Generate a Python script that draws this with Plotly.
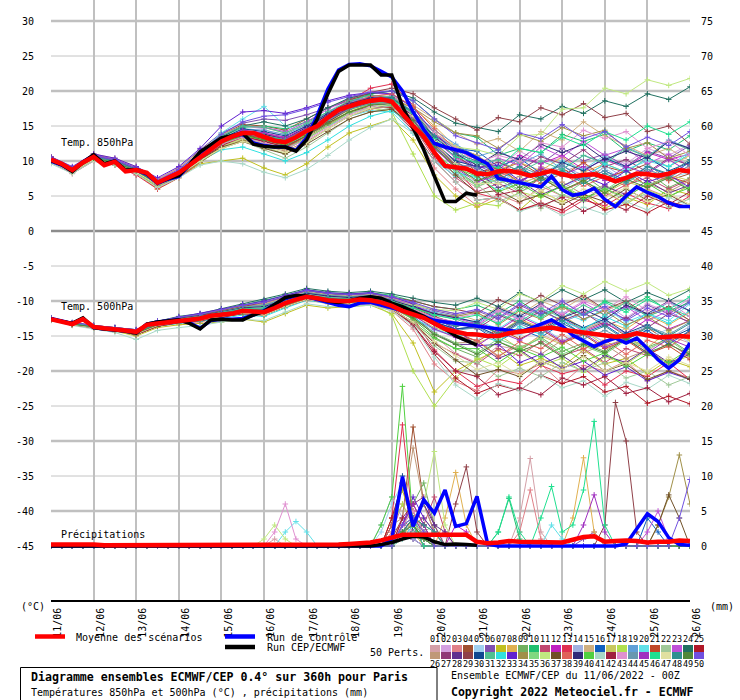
import plotly.graph_objects as go

# ---------------- data ----------------
DATES = ["11/06", "12/06", "13/06", "14/06", "15/06", "16/06", "17/06", "18/06",
         "19/06", "20/06", "21/06", "22/06", "23/06", "24/06", "25/06", "26/06"]
LEFT_TICKS = [30, 25, 20, 15, 10, 5, 0, -5, -10, -15, -20, -25, -30, -35, -40, -45]
RIGHT_TICKS = [75, 70, 65, 60, 55, 50, 45, 40, 35, 30, 25, 20, 15, 10, 5, 0]

MEMBER_COLORS = [
    "#d4a0a8", "#d4a0e0", "#e08088", "#a05030", "#a0d0f0", "#8050b0", "#c0c020", "#e0b050", "#70b060", "#20c070",
    "#c04870", "#c020c0", "#e03050", "#a0b0e0", "#d0b080", "#1060c0", "#c8c860", "#b0e050", "#60a0d8", "#60e0e8",
    "#c04828", "#a0c898", "#c050d8", "#207060", "#b01828",
    "#c09878", "#903878", "#603090", "#904048", "#104890", "#50c090", "#30e0e0", "#6020d0", "#a09048", "#80d880",
    "#c0e880", "#705028", "#e06058", "#302878", "#50d040", "#a8d8c8", "#a02040", "#e090d0", "#6898b0", "#a030c0",
    "#20e090", "#e0e0a0", "#309090", "#508838", "#7050e0"]

# 6-hourly series (degC / mm)
MEAN_850 = [10.2, 9.6, 8.7, 9.8, 10.6, 9.4, 9.9, 8.5, 8.7, 8.3,
            6.9, 7.6, 8.3, 9.4, 10.6, 11.8, 12.8, 13.5, 14.0, 14.0,
            13.4, 12.9, 12.7, 13.4, 14.3, 15.0, 16.2, 17.3, 17.8, 18.3,
            18.6, 18.8, 18.5, 16.7, 15.0, 13.5, 11.2, 9.3, 9.1, 8.9,
            8.2, 8.1, 8.5, 8.6, 8.3, 7.9, 8.2, 8.6, 8.1, 7.8,
            8.0, 8.1, 7.7, 7.1, 7.6, 8.2, 8.1, 7.9, 8.2, 8.7, 8.5]
CTRL_850 = [10.0, 9.4, 8.6, 9.9, 10.8, 9.5, 10.0, 8.6, 8.7, 8.1,
            6.8, 7.4, 7.8, 9.4, 11.2, 12.2, 13.2, 13.5, 13.8, 12.6,
            12.2, 12.0, 12.0, 11.5, 13.3, 16.5, 20.3, 23.0, 23.8, 23.9,
            23.6, 22.8, 22.0, 20.0, 17.0, 14.5, 12.5, 12.0, 11.6, 11.2,
            10.4, 9.6, 7.5, 7.2, 6.8, 6.5, 6.3, 7.8, 5.9, 5.1,
            5.4, 6.1, 4.5, 3.5, 5.0, 6.3, 5.5, 4.9, 4.0, 3.5, 3.5]
CEP_850 = [10.1, 9.5, 8.5, 9.8, 10.9, 9.6, 10.0, 8.7, 8.8, 8.2,
           6.9, 7.5, 7.9, 9.5, 11.3, 12.3, 13.3, 13.6, 14.0, 12.4,
           12.1, 12.0, 12.0, 11.4, 13.0, 16.0, 19.6, 22.8, 23.7, 23.7,
           23.7, 22.3, 22.3, 17.8, 14.6, 11.6, 7.8, 4.2, 4.2, 5.4, 5.1]
MEAN_500 = [-12.6, -12.9, -13.3, -12.6, -13.7, -13.9, -14.0, -14.2, -14.4, -13.4,
            -13.2, -13.0, -12.8, -12.7, -12.5, -12.1, -12.0, -11.8, -11.4, -11.5,
            -11.6, -11.0, -10.3, -9.8, -9.4, -9.6, -9.9, -10.0, -10.0, -9.8,
            -9.9, -10.2, -10.7, -11.4, -11.9, -12.4, -13.2, -14.0, -14.4, -14.7,
            -14.8, -15.0, -15.0, -14.6, -14.4, -14.2, -14.0, -13.8, -14.1, -14.3,
            -14.4, -14.6, -14.9, -15.1, -15.0, -14.6, -14.9, -15.2, -15.1, -15.0, -15.1]
CTRL_500 = [-12.5, -12.9, -13.2, -12.5, -13.8, -14.0, -14.1, -14.3, -14.5, -13.3,
            -13.0, -12.8, -12.7, -13.1, -13.9, -12.8, -12.6, -12.6, -12.5, -12.0,
            -11.4, -10.5, -9.6, -9.3, -9.4, -9.8, -10.2, -10.6, -10.8, -10.3,
            -10.2, -10.6, -11.0, -11.3, -11.8, -12.2, -12.8, -13.0, -13.2, -13.4,
            -13.5, -13.7, -14.0, -14.2, -14.4, -13.9, -13.3, -12.7, -13.6, -14.9,
            -15.7, -16.5, -15.8, -15.3, -16.0, -15.3, -16.8, -18.4, -19.6, -18.4, -16.0]
CEP_500 = [-12.6, -12.9, -13.2, -12.4, -13.8, -14.0, -14.1, -14.3, -14.6, -13.3,
           -13.0, -12.8, -12.7, -13.2, -14.0, -12.7, -12.6, -12.7, -12.7, -12.0,
           -11.5, -10.5, -9.5, -9.2, -9.3, -9.6, -10.0, -10.2, -10.0, -9.6,
           -9.4, -9.6, -10.3, -10.8, -11.5, -12.2, -13.2, -14.0, -15.0, -15.6, -16.3]
MEAN_PR = [0.2, 0.2, 0.3, 0.3, 0.2, 0.1, 0.1, 0.1, 0.1, 0.1,
           0.1, 0.1, 0.1, 0.1, 0.1, 0.1, 0.1, 0.1, 0.1, 0.1,
           0.2, 0.2, 0.2, 0.2, 0.2, 0.2, 0.2, 0.2, 0.3, 0.4,
           0.5, 0.8, 1.2, 1.6, 1.6, 1.6, 1.5, 1.5, 1.5, 1.6,
           0.6, 0.4, 0.5, 0.7, 0.6, 0.6, 0.6, 0.5, 0.5, 0.9,
           1.3, 1.4, 0.6, 0.7, 0.8, 0.7, 0.5, 0.6, 0.6, 0.8, 0.7]
CTRL_PR = [0, 0, 0, 0, 0, 0, 0, 0, 0, 0,
           0, 0, 0, 0, 0, 0, 0, 0, 0, 0,
           0, 0, 0, 0, 0, 0, 0, 0, 0, 0,
           0, 0, 1.0, 9.9, 2.8, 6.6, 4.7, 8.0, 2.8, 3.2,
           7.1, 0.3, 0, 0, 0, 0, 0, 0, 0, 0,
           0, 0, 0, 0, 0.3, 2.5, 4.6, 3.5, 1.2, 0.2, 0.1]
CEP_PR = [0, 0, 0, 0, 0, 0, 0, 0, 0, 0,
          0, 0, 0, 0, 0, 0, 0, 0, 0, 0,
          0, 0, 0, 0, 0, 0, 0, 0, 0, 0,
          0, 0.2, 0.5, 1.0, 1.4, 1.3, 0.6, 0.2, 0.3, 0.2, 0.1]

# 12-hourly member temperatures, tenths of degC
T850_MEMBERS = [
    [100, 88, 104, 98, 86, 70, 84, 104, 126, 142, 138, 130, 146, 168, 182, 190, 192, 160, 110, 80, 62, 78, 70, 92, 84, 96, 74, 86, 64, 80, 90],
    [104, 86, 108, 100, 88, 66, 80, 110, 134, 150, 146, 132, 150, 170, 190, 200, 196, 170, 130, 110, 104, 92, 114, 98, 104, 84, 106, 96, 118, 108, 124],
    [98, 84, 102, 96, 84, 62, 78, 100, 120, 132, 124, 116, 132, 150, 168, 180, 186, 150, 90, 60, 36, 52, 40, 64, 50, 42, 56, 38, 60, 48, 66],
    [106, 90, 110, 102, 90, 72, 86, 112, 138, 152, 150, 144, 160, 176, 188, 194, 190, 170, 140, 120, 108, 86, 98, 80, 90, 70, 92, 84, 96, 72, 82],
    [102, 88, 106, 98, 86, 68, 82, 106, 130, 140, 128, 120, 138, 156, 170, 178, 176, 140, 100, 82, 70, 88, 66, 80, 60, 78, 90, 70, 94, 76, 84],
    [104, 90, 108, 102, 90, 74, 90, 116, 140, 154, 160, 158, 166, 176, 186, 190, 186, 160, 118, 92, 94, 80, 104, 96, 118, 100, 110, 92, 114, 104, 122],
    [100, 86, 104, 96, 82, 60, 76, 96, 100, 104, 90, 80, 96, 120, 140, 150, 160, 130, 80, 50, 34, 46, 30, 56, 42, 54, 32, 48, 38, 60, 52],
    [102, 88, 106, 100, 88, 70, 84, 106, 124, 136, 132, 128, 140, 156, 174, 184, 190, 176, 150, 120, 108, 88, 98, 86, 106, 84, 96, 84, 104, 92, 108],
    [98, 84, 102, 94, 82, 64, 78, 98, 118, 128, 120, 110, 126, 146, 164, 176, 180, 150, 110, 88, 66, 78, 58, 76, 64, 80, 58, 72, 84, 62, 76],
    [104, 88, 108, 100, 86, 70, 86, 110, 134, 148, 150, 146, 156, 170, 184, 196, 200, 186, 160, 140, 134, 108, 118, 112, 138, 128, 138, 114, 126, 116, 136],
    [100, 86, 104, 98, 86, 68, 82, 104, 126, 138, 130, 122, 140, 160, 176, 184, 182, 150, 104, 76, 56, 68, 54, 76, 58, 70, 50, 66, 76, 60, 74],
    [102, 88, 106, 100, 88, 70, 84, 108, 130, 144, 140, 134, 150, 168, 184, 192, 188, 160, 120, 98, 100, 88, 108, 96, 108, 88, 102, 90, 112, 102, 110],
    [98, 82, 100, 94, 80, 60, 76, 98, 122, 136, 128, 118, 136, 160, 186, 204, 210, 180, 130, 90, 54, 46, 30, 38, 26, 44, 36, 54, 40, 32, 50],
    [102, 90, 106, 100, 88, 72, 86, 108, 128, 138, 132, 126, 138, 152, 168, 176, 178, 154, 120, 100, 98, 80, 92, 72, 92, 80, 94, 74, 88, 76, 94],
    [106, 90, 110, 104, 92, 74, 90, 114, 138, 150, 148, 140, 152, 166, 180, 188, 192, 180, 160, 140, 124, 132, 114, 142, 130, 156, 136, 122, 108, 118, 100],
    [100, 86, 104, 98, 86, 70, 84, 106, 126, 138, 136, 130, 144, 160, 174, 182, 180, 160, 136, 118, 114, 92, 104, 82, 94, 74, 86, 72, 92, 80, 98],
    [100, 86, 104, 96, 84, 66, 80, 102, 122, 132, 124, 116, 132, 150, 170, 180, 184, 160, 124, 100, 80, 90, 68, 78, 58, 72, 54, 70, 62, 80, 72],
    [102, 86, 106, 98, 86, 68, 84, 104, 124, 136, 130, 124, 138, 154, 170, 176, 170, 110, 50, 30, 40, 36, 56, 48, 66, 48, 58, 38, 58, 48, 66],
    [104, 88, 108, 100, 88, 70, 86, 110, 132, 146, 144, 138, 152, 170, 184, 192, 190, 170, 144, 124, 106, 116, 96, 110, 88, 108, 98, 120, 106, 130, 118],
    [102, 88, 106, 100, 88, 70, 86, 112, 140, 160, 178, 150, 140, 150, 164, 172, 170, 140, 100, 78, 80, 68, 88, 78, 100, 88, 108, 88, 100, 92, 114],
    [100, 86, 104, 98, 86, 68, 82, 104, 126, 138, 132, 126, 140, 158, 176, 186, 188, 170, 140, 110, 84, 90, 70, 88, 78, 98, 76, 86, 64, 78, 68],
    [98, 84, 102, 96, 84, 66, 80, 100, 118, 128, 116, 104, 120, 140, 160, 170, 176, 150, 110, 80, 66, 42, 54, 32, 52, 42, 62, 42, 54, 34, 46],
    [104, 90, 108, 102, 90, 72, 88, 112, 136, 150, 148, 142, 156, 174, 190, 198, 194, 168, 130, 104, 88, 104, 94, 120, 106, 128, 108, 118, 96, 110, 92],
    [102, 88, 106, 98, 86, 68, 84, 108, 134, 150, 156, 150, 160, 176, 190, 196, 200, 190, 170, 154, 148, 142, 166, 160, 178, 168, 186, 178, 196, 188, 206],
    [100, 86, 104, 98, 84, 64, 80, 102, 124, 136, 128, 120, 136, 154, 170, 178, 176, 144, 100, 70, 44, 48, 30, 40, 30, 48, 30, 38, 26, 42, 34],
    [100, 86, 104, 96, 84, 66, 80, 100, 120, 130, 122, 114, 128, 146, 164, 174, 178, 156, 120, 94, 86, 68, 78, 58, 70, 52, 66, 48, 68, 56, 72],
    [102, 88, 106, 100, 88, 70, 84, 106, 128, 140, 134, 128, 142, 158, 174, 182, 186, 164, 130, 106, 90, 98, 86, 106, 96, 116, 92, 102, 84, 104, 94],
    [104, 88, 106, 100, 86, 66, 82, 104, 126, 140, 136, 128, 142, 160, 176, 186, 190, 166, 128, 98, 84, 62, 72, 52, 64, 44, 64, 52, 72, 54, 66],
    [100, 86, 104, 98, 86, 68, 82, 104, 126, 138, 134, 130, 146, 166, 186, 198, 204, 196, 176, 160, 144, 162, 156, 176, 166, 182, 162, 168, 142, 150, 124],
    [102, 88, 106, 100, 88, 70, 86, 108, 132, 146, 142, 136, 150, 168, 182, 190, 188, 164, 126, 100, 92, 74, 88, 76, 98, 86, 104, 92, 106, 86, 98],
    [104, 88, 108, 100, 88, 70, 86, 110, 136, 150, 148, 140, 154, 170, 186, 194, 192, 170, 140, 116, 94, 102, 84, 100, 88, 108, 96, 118, 106, 128, 116],
    [98, 84, 102, 96, 84, 66, 80, 100, 116, 120, 110, 100, 112, 130, 150, 164, 172, 150, 110, 84, 76, 58, 72, 62, 86, 76, 96, 84, 104, 92, 110],
    [106, 92, 110, 104, 92, 76, 92, 118, 150, 170, 172, 168, 176, 186, 194, 198, 196, 176, 140, 112, 90, 94, 72, 84, 64, 78, 66, 86, 70, 80, 62],
    [100, 84, 102, 96, 84, 64, 78, 98, 118, 130, 124, 118, 134, 152, 170, 182, 188, 176, 156, 140, 136, 118, 138, 128, 148, 136, 144, 118, 126, 104, 114],
    [100, 86, 104, 98, 86, 68, 82, 104, 124, 134, 126, 118, 132, 150, 168, 178, 180, 154, 114, 86, 64, 74, 56, 68, 50, 70, 58, 78, 66, 76, 60],
    [100, 86, 104, 98, 84, 64, 80, 100, 120, 132, 126, 120, 136, 156, 172, 182, 186, 170, 140, 120, 116, 108, 136, 138, 174, 176, 204, 196, 216, 208, 218],
    [102, 88, 106, 98, 86, 66, 80, 102, 120, 128, 118, 110, 124, 142, 160, 170, 174, 150, 110, 80, 54, 58, 42, 52, 38, 52, 42, 60, 44, 52, 36],
    [102, 88, 106, 100, 88, 70, 86, 108, 128, 142, 138, 132, 146, 164, 182, 192, 196, 178, 146, 116, 102, 78, 88, 68, 82, 64, 78, 64, 84, 72, 90],
    [104, 90, 108, 100, 88, 70, 86, 108, 130, 142, 138, 132, 148, 166, 182, 190, 190, 168, 134, 110, 94, 112, 102, 124, 112, 124, 102, 114, 104, 128, 118],
    [100, 86, 104, 96, 84, 66, 82, 104, 124, 136, 130, 124, 138, 156, 174, 182, 184, 160, 120, 90, 78, 56, 68, 50, 64, 46, 60, 48, 68, 50, 62],
    [96, 82, 100, 94, 82, 62, 76, 94, 100, 96, 84, 76, 88, 108, 130, 148, 160, 140, 100, 70, 44, 48, 28, 38, 22, 34, 24, 42, 30, 48, 36],
    [100, 86, 104, 98, 86, 66, 80, 102, 122, 134, 128, 120, 136, 156, 174, 184, 186, 164, 124, 94, 80, 52, 58, 36, 48, 28, 42, 30, 50, 38, 56],
    [102, 88, 106, 100, 86, 68, 82, 104, 124, 134, 126, 118, 130, 148, 166, 178, 184, 168, 140, 118, 98, 108, 100, 126, 120, 144, 132, 142, 118, 128, 108],
    [102, 88, 106, 98, 86, 68, 84, 106, 128, 140, 134, 128, 140, 158, 174, 182, 184, 160, 122, 96, 90, 72, 92, 80, 94, 74, 86, 68, 88, 76, 94],
    [104, 88, 108, 100, 88, 70, 86, 108, 130, 144, 140, 132, 146, 164, 180, 188, 186, 160, 118, 90, 70, 80, 68, 90, 80, 92, 72, 92, 82, 102, 84],
    [100, 86, 104, 98, 86, 68, 84, 106, 128, 140, 136, 130, 144, 162, 178, 186, 188, 168, 132, 106, 98, 90, 118, 112, 134, 122, 142, 130, 150, 138, 156],
    [98, 84, 102, 96, 84, 66, 80, 100, 118, 128, 120, 112, 126, 146, 164, 176, 182, 164, 128, 96, 68, 68, 46, 58, 40, 60, 48, 62, 42, 54, 38],
    [102, 88, 106, 100, 88, 70, 84, 106, 128, 140, 136, 128, 144, 162, 178, 188, 190, 170, 136, 110, 100, 80, 92, 72, 86, 68, 82, 70, 92, 82, 102],
    [100, 86, 104, 98, 86, 68, 82, 104, 126, 138, 130, 122, 136, 154, 170, 180, 182, 158, 120, 92, 72, 82, 62, 76, 58, 72, 54, 74, 62, 76, 58],
    [104, 90, 108, 102, 90, 72, 88, 112, 138, 156, 164, 166, 174, 184, 192, 198, 200, 186, 160, 136, 126, 116, 140, 132, 152, 132, 142, 120, 134, 122, 142],
]
T500_MEMBERS = [
    [-125, -132, -136, -140, -145, -132, -127, -124, -118, -112, -110, -100, -92, -96, -98, -96, -104, -120, -150, -175, -188, -164, -170, -148, -160, -140, -160, -150, -172, -150, -160],
    [-124, -131, -135, -138, -142, -130, -124, -120, -114, -108, -104, -96, -88, -92, -94, -92, -98, -108, -118, -124, -118, -130, -110, -122, -102, -116, -104, -124, -104, -116, -96],
    [-127, -134, -138, -142, -148, -136, -132, -130, -124, -118, -120, -108, -98, -104, -106, -104, -114, -140, -190, -215, -228, -198, -204, -190, -218, -192, -200, -186, -214, -200, -210],
    [-126, -133, -137, -140, -143, -131, -126, -122, -116, -110, -106, -98, -90, -94, -96, -94, -100, -110, -122, -132, -130, -148, -128, -140, -122, -142, -130, -150, -138, -158, -144],
    [-126, -133, -137, -141, -145, -133, -128, -125, -120, -115, -118, -106, -96, -100, -102, -100, -108, -124, -142, -150, -156, -136, -148, -136, -156, -144, -158, -138, -152, -140, -160],
    [-125, -132, -136, -139, -143, -131, -125, -121, -115, -108, -104, -95, -86, -90, -92, -90, -96, -104, -114, -120, -114, -126, -106, -120, -106, -126, -112, -126, -106, -118, -100],
    [-127, -134, -139, -143, -150, -138, -134, -132, -130, -126, -130, -118, -106, -110, -108, -106, -118, -160, -230, -200, -184, -170, -192, -182, -194, -170, -190, -182, -204, -184, -194],
    [-126, -133, -137, -140, -144, -132, -127, -124, -119, -113, -112, -102, -92, -96, -98, -96, -102, -112, -124, -134, -132, -146, -126, -138, -120, -140, -128, -140, -120, -134, -116],
    [-127, -134, -138, -141, -146, -134, -130, -127, -122, -117, -120, -108, -98, -102, -104, -102, -112, -130, -154, -168, -180, -158, -170, -152, -172, -160, -172, -152, -166, -154, -174],
    [-125, -132, -136, -139, -142, -130, -124, -120, -113, -106, -100, -92, -84, -88, -90, -88, -92, -100, -108, -112, -106, -118, -100, -120, -108, -120, -100, -112, -94, -114, -102],
    [-126, -133, -137, -141, -146, -134, -129, -126, -121, -116, -118, -106, -96, -100, -102, -100, -110, -132, -160, -176, -190, -168, -178, -158, -178, -168, -188, -168, -178, -160, -180],
    [-125, -132, -136, -140, -144, -132, -126, -122, -117, -111, -110, -100, -91, -95, -97, -95, -102, -114, -128, -136, -130, -142, -122, -136, -124, -144, -132, -146, -126, -140, -128],
    [-127, -134, -138, -142, -148, -136, -131, -128, -122, -116, -116, -104, -94, -98, -100, -98, -106, -124, -170, -200, -222, -212, -218, -192, -204, -196, -220, -200, -208, -188, -212],
    [-126, -133, -137, -140, -144, -132, -127, -124, -119, -114, -114, -104, -95, -99, -101, -99, -106, -118, -132, -140, -136, -150, -132, -146, -128, -142, -128, -148, -136, -154, -136],
    [-124, -131, -135, -138, -141, -129, -123, -119, -113, -107, -104, -95, -87, -91, -93, -91, -96, -104, -112, -118, -128, -108, -120, -100, -112, -94, -114, -102, -122, -110, -128],
    [-126, -133, -137, -140, -144, -132, -127, -123, -118, -112, -112, -102, -93, -97, -99, -97, -104, -116, -130, -140, -138, -158, -140, -152, -132, -146, -134, -154, -142, -162, -142],
    [-126, -133, -137, -141, -145, -133, -128, -125, -120, -115, -116, -105, -95, -99, -101, -99, -107, -120, -138, -148, -160, -148, -168, -150, -162, -142, -164, -154, -166, -144, -156],
    [-126, -133, -138, -142, -147, -135, -131, -128, -123, -118, -120, -108, -98, -102, -104, -102, -120, -200, -250, -210, -182, -194, -172, -192, -182, -202, -180, -190, -170, -190, -178],
    [-125, -132, -136, -139, -143, -131, -125, -121, -115, -109, -106, -97, -88, -92, -94, -92, -98, -106, -116, -122, -132, -112, -124, -110, -130, -118, -130, -108, -120, -102, -114],
    [-125, -132, -136, -140, -144, -132, -126, -122, -116, -110, -108, -98, -90, -94, -96, -94, -100, -112, -126, -134, -128, -140, -120, -134, -116, -128, -110, -130, -118, -128, -104],
    [-126, -133, -137, -140, -144, -132, -127, -124, -119, -113, -112, -102, -93, -97, -99, -97, -104, -116, -132, -144, -158, -140, -154, -140, -160, -148, -168, -156, -176, -164, -184],
    [-127, -134, -138, -142, -147, -135, -130, -127, -122, -117, -120, -108, -98, -102, -104, -102, -112, -132, -164, -186, -188, -208, -196, -208, -188, -200, -188, -210, -200, -220, -208],
    [-125, -132, -136, -139, -143, -131, -125, -121, -115, -109, -106, -97, -88, -92, -94, -92, -97, -106, -118, -124, -134, -114, -126, -106, -120, -102, -120, -108, -128, -114, -132],
    [-124, -131, -135, -138, -141, -129, -122, -118, -111, -104, -98, -90, -82, -86, -88, -86, -90, -96, -102, -106, -96, -108, -88, -102, -84, -98, -84, -102, -88, -100, -84],
    [-127, -134, -138, -142, -148, -136, -131, -128, -123, -117, -118, -106, -96, -100, -102, -100, -110, -134, -176, -210, -232, -220, -228, -206, -218, -208, -230, -222, -246, -236, -247],
    [-126, -133, -137, -141, -146, -134, -129, -126, -121, -116, -118, -106, -96, -100, -102, -100, -110, -126, -146, -160, -158, -178, -164, -176, -156, -174, -162, -182, -170, -190, -172],
    [-125, -132, -136, -140, -144, -132, -126, -122, -117, -111, -110, -100, -91, -95, -97, -95, -102, -112, -124, -130, -140, -120, -132, -114, -128, -116, -136, -124, -138, -118, -130],
    [-126, -133, -137, -141, -145, -133, -128, -125, -120, -114, -114, -104, -94, -98, -100, -98, -106, -122, -146, -162, -162, -182, -170, -190, -178, -198, -178, -188, -168, -188, -176],
    [-125, -132, -136, -139, -142, -130, -124, -120, -114, -107, -102, -94, -85, -89, -91, -89, -94, -100, -108, -112, -118, -98, -110, -92, -106, -92, -112, -100, -120, -108, -128],
    [-126, -133, -137, -140, -144, -132, -127, -123, -118, -112, -110, -101, -92, -96, -98, -96, -103, -115, -130, -140, -136, -150, -130, -142, -124, -138, -126, -146, -134, -154, -140],
    [-125, -132, -136, -139, -143, -131, -125, -121, -115, -109, -106, -97, -88, -92, -94, -92, -98, -108, -120, -126, -136, -118, -130, -110, -124, -106, -120, -102, -122, -110, -122],
    [-127, -134, -138, -142, -148, -136, -132, -129, -125, -120, -122, -110, -99, -103, -104, -102, -110, -124, -140, -150, -148, -158, -136, -148, -128, -140, -122, -136, -118, -132, -114],
    [-124, -131, -135, -138, -141, -129, -123, -118, -112, -105, -100, -92, -84, -88, -90, -88, -94, -104, -124, -140, -164, -162, -188, -176, -196, -186, -206, -194, -214, -202, -212],
    [-126, -133, -137, -140, -144, -132, -127, -124, -119, -113, -112, -102, -93, -97, -99, -97, -103, -110, -118, -122, -116, -134, -114, -126, -108, -126, -114, -134, -122, -142, -128],
    [-126, -133, -137, -141, -146, -134, -129, -126, -121, -116, -118, -106, -96, -100, -102, -100, -108, -124, -146, -160, -174, -154, -166, -154, -176, -164, -176, -156, -168, -156, -176],
    [-126, -133, -137, -140, -144, -132, -127, -124, -119, -113, -112, -102, -92, -96, -98, -96, -100, -106, -112, -114, -102, -112, -90, -100, -78, -90, -72, -86, -74, -92, -82],
    [-127, -134, -138, -142, -148, -136, -131, -128, -123, -118, -120, -108, -98, -102, -104, -102, -112, -130, -160, -184, -206, -198, -208, -186, -198, -178, -200, -190, -212, -200, -212],
    [-125, -132, -136, -140, -144, -132, -126, -122, -117, -111, -110, -100, -91, -95, -97, -95, -102, -114, -132, -150, -156, -180, -158, -168, -148, -168, -156, -176, -156, -166, -146],
    [-125, -132, -136, -139, -143, -131, -125, -121, -116, -110, -108, -98, -89, -93, -95, -93, -99, -108, -118, -124, -130, -110, -122, -104, -124, -112, -126, -106, -118, -100, -114],
    [-126, -133, -137, -141, -146, -134, -129, -126, -121, -116, -118, -106, -96, -100, -102, -100, -108, -126, -152, -168, -168, -188, -168, -180, -166, -186, -174, -194, -176, -188, -168],
    [-128, -135, -140, -145, -155, -142, -138, -135, -130, -126, -128, -116, -104, -108, -108, -106, -114, -136, -180, -220, -240, -218, -228, -206, -224, -214, -236, -216, -226, -206, -218],
    [-127, -134, -138, -142, -148, -136, -131, -128, -123, -118, -120, -108, -98, -102, -104, -102, -112, -134, -172, -200, -208, -234, -224, -234, -210, -220, -208, -232, -224, -244, -232],
    [-125, -132, -136, -140, -144, -132, -126, -122, -117, -111, -110, -100, -91, -95, -97, -95, -102, -112, -124, -130, -136, -114, -126, -106, -118, -100, -112, -94, -114, -102, -122],
    [-126, -133, -137, -140, -144, -132, -127, -124, -119, -113, -112, -102, -93, -97, -99, -97, -104, -116, -132, -142, -138, -152, -132, -146, -134, -154, -142, -156, -136, -148, -130],
    [-126, -133, -137, -141, -145, -133, -128, -125, -120, -114, -114, -104, -94, -98, -100, -98, -106, -120, -140, -152, -164, -144, -156, -138, -158, -146, -166, -154, -174, -154, -166],
    [-125, -132, -136, -140, -144, -132, -126, -122, -117, -111, -110, -100, -91, -95, -97, -95, -101, -110, -120, -126, -120, -132, -112, -124, -106, -120, -102, -116, -98, -112, -94],
    [-127, -134, -138, -142, -147, -135, -130, -127, -122, -117, -120, -108, -98, -102, -104, -102, -112, -130, -158, -178, -198, -188, -206, -186, -198, -180, -200, -188, -200, -180, -192],
    [-126, -133, -137, -140, -144, -132, -127, -123, -118, -112, -112, -102, -92, -96, -98, -96, -103, -114, -128, -136, -132, -146, -128, -142, -128, -148, -136, -156, -138, -150, -132],
    [-126, -133, -137, -141, -146, -134, -129, -126, -121, -116, -116, -105, -95, -99, -101, -99, -108, -124, -148, -162, -176, -158, -172, -160, -180, -162, -174, -154, -174, -162, -176],
    [-124, -131, -135, -138, -141, -129, -123, -119, -112, -106, -102, -93, -85, -89, -91, -89, -94, -102, -112, -118, -112, -124, -104, -118, -100, -120, -108, -128, -110, -122, -102],
]
# 6-hourly member precipitation: {step index: tenths of mm}, 0 elsewhere
PRECIP_MEMBERS = [
    {21: 10, 32: 20, 33: 30, 34: 10, 44: 40, 45: 125, 46: 20},
    {32: 10, 33: 30, 34: 20, 35: 10, 37: 15},
    {32: 20, 33: 60, 34: 30, 35: 20, 44: 20, 45: 80, 46: 10},
    {32: 10, 33: 40, 34: 170, 35: 60, 36: 20},
    {31: 20, 32: 60, 33: 90, 34: 20, 35: 10},
    {33: 20, 34: 30, 35: 10, 36: 20, 50: 10, 51: 20},
    {32: 40, 33: 80, 34: 30, 35: 40, 36: 20},
    {33: 10, 34: 20, 37: 40, 38: 105, 39: 30, 49: 40, 50: 126, 51: 20},
    {33: 30, 34: 60, 35: 90, 36: 30},
    {33: 20, 34: 10, 42: 20, 43: 68, 44: 10},
    {33: 40, 34: 20, 35: 30, 36: 70, 37: 20},
    {33: 20, 34: 10, 38: 30, 39: 20},
    {32: 40, 33: 173, 34: 30, 35: 10},
    {31: 30, 32: 70, 33: 40, 34: 10},
    {33: 10, 34: 20, 35: 10},
    {33: 20, 34: 30, 35: 20, 56: 40, 57: 20},
    {33: 10, 34: 40, 35: 20},
    {32: 30, 33: 60, 34: 30, 35: 20},
    {33: 30, 34: 40, 35: 10},
    {22: 20, 23: 35, 24: 20, 33: 20, 34: 30, 47: 30, 48: 10},
    {33: 20, 34: 30, 35: 10},
    {33: 30, 34: 40, 35: 20, 36: 30},
    {33: 20, 34: 30, 56: 20, 57: 50, 58: 10},
    {33: 10, 34: 20, 35: 10},
    {32: 40, 33: 90, 34: 20, 35: 10},
    {32: 30, 33: 40, 34: 140, 35: 60, 36: 20},
    {33: 30, 34: 60, 35: 70, 36: 30},
    {33: 20, 34: 40, 35: 60, 36: 30, 37: 20},
    {33: 20, 34: 30, 38: 60, 39: 113, 40: 20, 52: 30, 53: 205, 54: 150, 55: 20},
    {32: 30, 33: 100, 34: 20, 35: 10},
    {33: 20, 34: 40, 35: 10},
    {33: 10, 34: 30, 35: 20},
    {33: 30, 34: 70, 35: 40, 36: 20},
    {33: 30, 34: 50, 35: 20, 57: 30, 58: 70, 59: 130, 60: 60},
    {33: 20, 34: 40, 35: 30, 36: 20},
    {20: 10, 21: 30, 22: 10, 33: 30, 34: 40, 35: 60, 36: 135, 37: 30},
    {33: 20, 34: 40, 35: 30, 57: 30, 58: 73, 59: 40},
    {32: 30, 33: 90, 34: 50, 35: 10},
    {33: 20, 34: 30, 35: 20},
    {31: 30, 32: 70, 33: 228, 34: 30, 35: 10},
    {33: 10, 34: 20, 35: 10},
    {33: 40, 34: 60, 35: 30},
    {21: 20, 22: 60, 23: 10, 33: 30, 34: 50, 35: 20},
    {33: 20, 34: 30, 35: 20},
    {33: 30, 34: 60, 35: 30, 50: 30, 51: 73, 52: 20},
    {33: 20, 34: 30, 42: 20, 43: 70, 44: 20, 46: 40, 47: 85, 48: 20, 49: 30, 50: 80, 51: 178, 52: 30},
    {33: 20, 34: 30, 35: 20},
    {33: 20, 34: 40, 35: 30, 36: 20},
    {33: 20, 34: 30, 35: 10},
    {33: 30, 34: 40, 35: 20, 59: 40, 60: 95},
]

# ---------------- figure ----------------
W, H = 740, 700
ML, MR, MT, MB = 51, 50, 0, 100
PW, PH = W - ML - MR, H - MT - MB
FONT = "DejaVu Sans Mono"


def hrs(vals, step):
    return [i * step for i in range(len(vals))]


def px(x):
    return (x - ML) / PW


def py(y):
    return (MT + PH - y) / PH


fig = go.Figure()


def member(y, step, color, axis):
    fig.add_trace(go.Scatter(
        x=hrs(y, step), y=y, yaxis=axis, mode="lines+markers",
        line=dict(color=color, width=1),
        marker=dict(symbol="cross-thin", size=4, color=color, line=dict(color=color, width=1)),
        hoverinfo="skip", showlegend=False))


def main(y, color, width, axis):
    fig.add_trace(go.Scatter(
        x=hrs(y, 6), y=y, yaxis=axis, mode="lines",
        line=dict(color=color, width=width),
        hoverinfo="skip", showlegend=False))


for k, c in enumerate(MEMBER_COLORS):
    member([v / 10 for v in T850_MEMBERS[k]], 12, c, "y")
    member([v / 10 for v in T500_MEMBERS[k]], 12, c, "y")
for ys in (CTRL_850, CTRL_500):
    main(ys, "#0000ff", 3.5, "y")
for ys in (CEP_850, CEP_500):
    main(ys, "#000000", 3.5, "y")
for ys in (MEAN_850, MEAN_500):
    main(ys, "#ff0000", 4.5, "y")

for k, c in enumerate(MEMBER_COLORS):
    pr = [0.0] * len(MEAN_PR)
    for j, v in PRECIP_MEMBERS[k].items():
        pr[j] = v / 10
    member(pr, 6, c, "y2")
main(CTRL_PR, "#0000ff", 3.5, "y2")
main(CEP_PR, "#000000", 3.5, "y2")
main(MEAN_PR, "#ff0000", 4.5, "y2")

shapes = []
for v in LEFT_TICKS:
    if v == 0:
        col, wd = "#8c8c8c", 2.5
    elif v % 10 == 0:
        col, wd = "#c0c0c0", 2.5
    else:
        col, wd = "#c4c4c4", 1
    shapes.append(dict(type="line", xref="x", yref="y", x0=0, x1=360, y0=v, y1=v,
                       line=dict(color=col, width=wd), layer="below"))


def pline(x0, x1, y, color, width):
    shapes.append(dict(type="line", xref="paper", yref="paper", x0=px(x0), x1=px(x1),
                       y0=py(y), y1=py(y), line=dict(color=color, width=width)))


def prect(x0, x1, y0, y1, fill):
    shapes.append(dict(type="rect", xref="paper", yref="paper", x0=px(x0), x1=px(x1),
                       y0=py(y1), y1=py(y0), fillcolor=fill, line=dict(width=0)))


pline(35, 65, 636.5, "#ff0000", 4.5)
pline(225, 255, 636.5, "#0000ff", 4.5)
pline(225, 255, 647, "#000000", 4.5)
for i in range(25):
    prect(430 + 11 * i, 440 + 11 * i, 645, 652, MEMBER_COLORS[i])
    prect(430 + 11 * i, 440 + 11 * i, 652, 659, MEMBER_COLORS[25 + i])
shapes.append(dict(type="rect", xref="paper", yref="paper", x0=px(20.5), x1=px(437),
                   y0=py(702), y1=py(667.5), line=dict(color="black", width=1), fillcolor="rgba(0,0,0,0)"))

annotations = []


def label(text, x, y, size=10, anchor="left", bold=False):
    annotations.append(dict(text=f"<b>{text}</b>" if bold else text, x=px(x), y=py(y),
                            xref="paper", yref="paper", xanchor=anchor, yanchor="middle",
                            showarrow=False, font=dict(family=FONT, size=size, color="black")))


label("Temp. 850hPa", 59, 143)
label("Temp. 500hPa", 59, 306)
label("Précipitations", 59, 534)
label("(°C)", 19, 606.5)
label("(mm)", 708, 606.5)
label("Moyenne des scénarios", 74, 637)
label("Run de contrôle", 265, 637)
label("Run CEP/ECMWF", 265, 647)
label("50 Perts.", 368, 652)
for i in range(25):
    label(f"{i + 1:02d}", 435 + 11 * i, 638.5, size=8.5, anchor="center")
    label(f"{i + 26:02d}", 435 + 11 * i, 664, size=8.5, anchor="center")
label("Diagramme ensembles ECMWF/CEP 0.4° sur 360h pour Paris", 29, 677, size=11.6, bold=True)
label("Températures 850hPa et 500hPa (°C) , précipitations (mm)", 29, 692)
label("Ensemble ECMWF/CEP du 11/06/2022 - 00Z", 449, 675)
label("Copyright 2022 Meteociel.fr - ECMWF", 449, 692, size=11.5, bold=True)

ymax = 30 + 21 / 7
ymin = ymax - PH / 7

fig.update_layout(
    template="none",
    width=W, height=H,
    margin=dict(l=ML, r=MR, t=MT, b=MB, pad=0),
    paper_bgcolor="white", plot_bgcolor="white",
    showlegend=False,
    font=dict(family=FONT, size=10, color="black"),
    xaxis=dict(range=[0, 360], tickvals=hrs(DATES, 24), ticktext=DATES, tickangle=-90,
               showgrid=True, gridcolor="#c0c0c0", gridwidth=1.5, zeroline=False,
               showline=True, linecolor="black", linewidth=1.5, ticks="",
               ticklabelshift=7, ticklabelstandoff=2, automargin=False, fixedrange=True,
               tickfont=dict(family=FONT, size=10)),
    yaxis=dict(range=[ymin, ymax], tickvals=LEFT_TICKS, ticktext=[str(v) for v in LEFT_TICKS],
               showgrid=False, zeroline=False, showline=False, ticks="",
               ticklabelstandoff=16, automargin=False, fixedrange=True,
               tickfont=dict(family=FONT, size=10)),
    yaxis2=dict(range=[ymin + 45, ymax + 45], overlaying="y", side="right",
                tickvals=RIGHT_TICKS, ticktext=[str(v) for v in RIGHT_TICKS],
                showgrid=False, zeroline=False, showline=False, ticks="",
                ticklabelstandoff=10, automargin=False, fixedrange=True,
                tickfont=dict(family=FONT, size=10)),
    shapes=shapes,
    annotations=annotations,
)

fig.write_html("out.html", config={"displayModeBar": False},
               post_script="document.body.style.margin='0';document.body.style.overflow='hidden';")
